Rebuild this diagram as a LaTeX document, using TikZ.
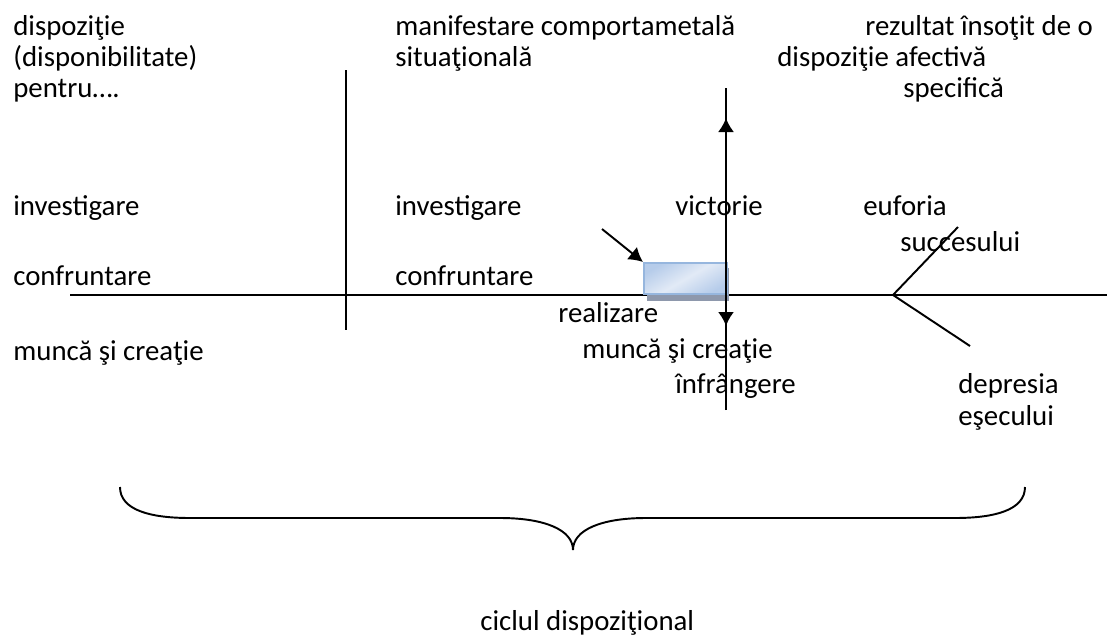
\documentclass[tikz,border=0pt]{standalone}
\usepackage{fontspec}
\setmainfont{Carlito}
\usetikzlibrary{arrows.meta}
\definecolor{boxfill}{RGB}{182,204,234}
\definecolor{boxlight}{RGB}{226,234,246}
\definecolor{boxdraw}{RGB}{150,182,222}
\definecolor{boxshadow}{RGB}{142,152,172}
\begin{document}
\begin{tikzpicture}[x=0.02cm, y=-0.02cm]
	\tikzstyle{lbl}=[anchor=base west, inner sep=0pt, font=\fontsize{16.4pt}{19pt}\selectfont]
	\tikzstyle{axis}=[line width=1.1pt]
	\tikzstyle{tip}=[-{Latex[length=0.28cm, width=0.32cm]}]

	\useasboundingbox (0,0) rectangle (1107,640);

	\node[lbl] (disp1) at (13,35)	{dispoziţie};
	\node[lbl] (disp2) at (13,66)	{(disponibilitate)};
	\node[lbl] (disp3) at (13,97)	{pentru….};

	\node[lbl] (manif1) at (395,35)	{manifestare comportametală};
	\node[lbl] (manif2) at (395,66)	{situaţională};

	\node[lbl] (rez1) at (865,35)	{rezultat însoţit de o};
	\node[lbl] (rez2) at (777,66)	{dispoziţie afectivă};
	\node[lbl] (rez3) at (903,97)	{specifică};

	\node[lbl] (invA) at (13,215)	{investigare};
	\node[lbl] (invB) at (395,215)	{investigare};
	\node[lbl] (confA) at (13,285)	{confruntare};
	\node[lbl] (confB) at (395,285)	{confruntare};
	\node[lbl] (muncaA) at (13,360)	{muncă şi creaţie};
	\node[lbl] (muncaB) at (582,358)	{muncă şi creaţie};
	\node[lbl] (real) at (558,322)	{realizare};

	\node[lbl] (vict) at (675,215)	{victorie};
	\node[lbl] (infr) at (675,393)	{înfrângere};

	\node[lbl] (euf1) at (863,215)	{euforia};
	\node[lbl] (euf2) at (900,251)	{succesului};
	\node[lbl] (dep1) at (958,393)	{depresia};
	\node[lbl] (dep2) at (958,425)	{eşecului};

	\node[lbl] (ciclu) at (480,630)	{ciclul dispoziţional};

	\coordinate (axL) at (70,295);
	\coordinate (axR) at (1107,295);
	\coordinate (sepT) at (346,70);
	\coordinate (sepB) at (346,330);
	\coordinate (fork) at (893,295);
	\coordinate (forkU) at (958,227);
	\coordinate (forkD) at (970,346);
	\coordinate (vT) at (726,88);
	\coordinate (vB) at (726,410);
	\coordinate (upTip) at (726,118);
	\coordinate (dnTip) at (726,326);
	\coordinate (src) at (602,229);

	\draw[axis] (axL) -- (axR);
	\draw[axis] (sepT) -- (sepB);
	\draw[axis] (fork) -- (forkU);
	\draw[axis] (fork) -- (forkD);

	\fill[boxshadow] (647,268) rectangle (729,301);
	\node[draw=boxdraw, line width=1.2pt, top color=boxfill, bottom color=boxfill, middle color=boxlight, shading angle=30, minimum width=83*0.02cm, minimum height=31*0.02cm, inner sep=0pt, anchor=north west] (box) at (643,262) {};

	\draw[axis, tip] (vB) -- (upTip);
	\draw[axis, tip] (vT) -- (dnTip);
	\draw[axis, tip] (src) -- (box.north west);

	\draw[axis] (120,487) .. controls (120,510) and (150,518) .. (190,518) -- (500,518)
		.. controls (545,518) and (573,530) .. (573,550)
		.. controls (573,530) and (601,518) .. (646,518) -- (955,518)
		.. controls (995,518) and (1025,510) .. (1025,487);
\end{tikzpicture}
\end{document}
